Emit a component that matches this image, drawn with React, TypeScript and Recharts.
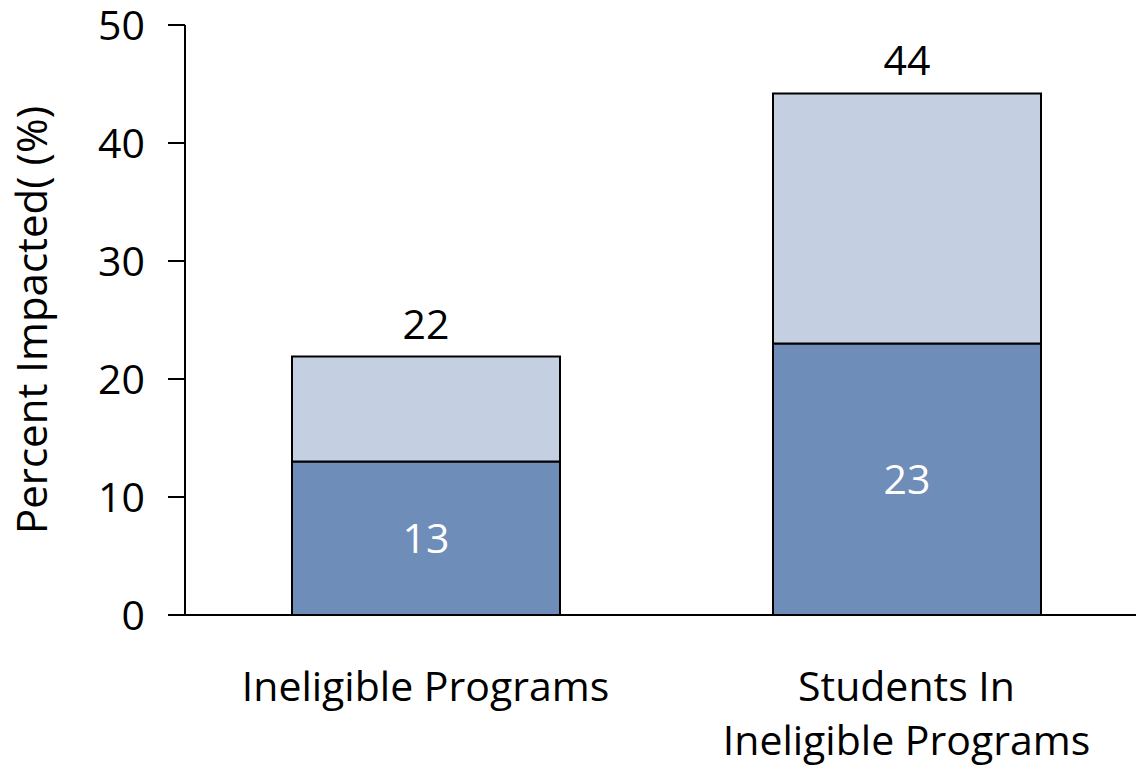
import { BarChart, Bar, XAxis, YAxis, LabelList, Label } from 'recharts'

const categories = [['Ineligible Programs'], ['Students In', 'Ineligible Programs']]
const lowerValues = [13, 23]
const totalValues = [21.9, 44.2]
const totalLabels = [22, 44]
const yTicks = [0, 10, 20, 30, 40, 50]
const yTitle = 'Percent Impacted( (%)'

const FONT = '"Open Sans", sans-serif'
const FS = 41

const data = categories.map((lines, i) => ({
  name: lines.join('\n'),
  lower: lowerValues[i],
  upper: totalValues[i] - lowerValues[i],
  total: totalLabels[i],
}))

function CategoryTick(props: any) {
  const { x, y, payload } = props
  const lines = String(payload.value).split('\n')
  return (
    <g>
      {lines.map((line: string, i: number) => (
        <text
          key={i}
          x={x}
          y={y + 78 + i * 54}
          textAnchor="middle"
          fill="#000"
          fontSize={FS}
          fontFamily={FONT}
        >
          {line}
        </text>
      ))}
    </g>
  )
}

function YTitle(props: any) {
  const { viewBox } = props
  const cx = 30
  const cy = viewBox.y + viewBox.height / 2
  return (
    <text
      x={cx}
      y={cy}
      transform={`rotate(-90, ${cx}, ${cy})`}
      textAnchor="middle"
      dominantBaseline="central"
      fill="#000"
      fontSize={42}
      fontFamily={FONT}
    >
      {yTitle}
    </text>
  )
}

export default function App() {
  return (
    <div style={{ position: 'absolute', left: 0, top: 0, width: 1136, height: 769, overflow: 'hidden', background: '#fff' }}>
      <BarChart
        width={1147}
        height={769}
        data={data}
        barSize={268}
        margin={{ top: 25, right: 0, bottom: 0, left: 0 }}
      >
        <XAxis
          dataKey="name"
          height={154}
          axisLine={{ stroke: '#000', strokeWidth: 2 }}
          tickLine={false}
          tick={<CategoryTick />}
          interval={0}
        />
        <YAxis
          width={185}
          domain={[0, 50]}
          ticks={yTicks}
          tickSize={17}
          tickMargin={23}
          axisLine={{ stroke: '#000', strokeWidth: 2 }}
          tickLine={{ stroke: '#000', strokeWidth: 2 }}
          tick={{ fill: '#000', fontSize: FS, fontFamily: FONT }}
        >
          <Label content={<YTitle />} />
        </YAxis>
        <Bar dataKey="lower" stackId="a" fill="#6E8DB9" stroke="#000" strokeWidth={2} isAnimationActive={false}>
          <LabelList dataKey="lower" position="center" fill="#fff" fontSize={FS} fontFamily={FONT} />
        </Bar>
        <Bar dataKey="upper" stackId="a" fill="#C4CFE1" stroke="#000" strokeWidth={2} isAnimationActive={false}>
          <LabelList dataKey="total" position="top" offset={18} fill="#000" fontSize={FS} fontFamily={FONT} />
        </Bar>
      </BarChart>
    </div>
  )
}
